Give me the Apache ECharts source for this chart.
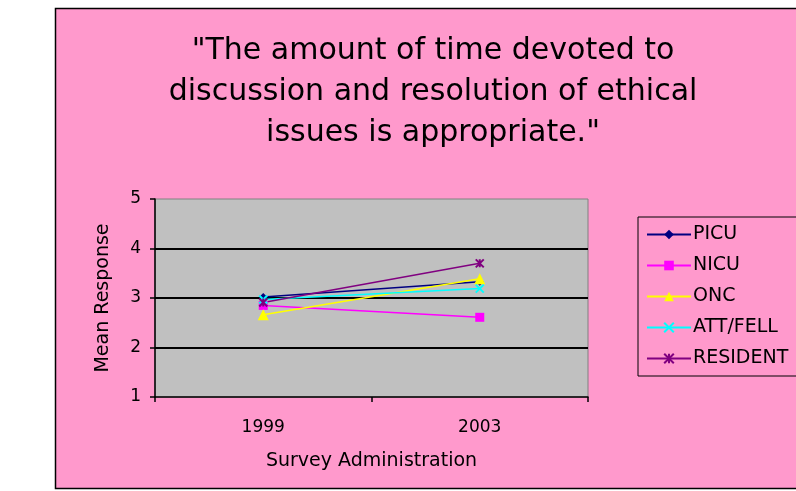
<!DOCTYPE html>
<html>
<head>
<meta charset="utf-8">
<script src="https://cdn.jsdelivr.net/npm/echarts@6/dist/echarts.min.js"></script>
<style>
  html, body { margin: 0; padding: 0; background: #fff; }
  #chart { width: 796px; height: 491px; }
</style>
</head>
<body>
<div id="chart"></div>
<script>
// survey years on the x axis
const years = ["1999", "2003"];
// mean response per unit
const picu = [3.02, 3.33];
const nicu = [2.85, 2.61];
const onc = [2.66, 3.39];
const attFell = [2.97, 3.19];
const resident = [2.91, 3.70];

// wide sans to match the stretched look of the original text
const font = "DejaVu Sans, Liberation Sans, sans-serif";

function mk(name, data, color, symbol, size, stroke) {
  return {
    name: name,
    type: "line",
    data: data,
    symbol: symbol,
    symbolSize: size,
    lineStyle: { color: color, width: 1.5 },
    itemStyle: stroke
      ? { color: color, borderColor: color, borderWidth: 2 }
      : { color: color, borderWidth: 0 },
    emphasis: { disabled: true }
  };
}

const chart = echarts.init(document.getElementById("chart"));
chart.setOption({
  backgroundColor: "#fff",
  animation: false,
  graphic: [
    {
      type: "rect",
      z: -10,
      shape: { x: 55.5, y: 8.5, width: 760, height: 480 },
      style: { fill: "#ff99cc", stroke: "#000", lineWidth: 1.5 }
    }
  ],
  title: {
    text: '"The amount of time devoted to\ndiscussion and resolution of ethical\nissues is appropriate."',
    left: 433,
    top: 31,
    padding: 0,
    textAlign: "center",
    textStyle: { fontFamily: font, fontSize: 30, fontWeight: "normal", lineHeight: 41, color: "#000" }
  },
  legend: {
    orient: "vertical",
    left: 638,
    top: 217,
    width: 170,
    height: 156,
    padding: [8, 60, 8, 8],
    itemGap: 12,
    itemWidth: 44,
    itemHeight: 12,
    borderColor: "#000",
    borderWidth: 1,
    textStyle: { fontFamily: font, fontSize: 19, color: "#000", padding: [0, 0, 0, -3] },
    data: ["PICU", "NICU", "ONC", "ATT/FELL", "RESIDENT"]
  },
  grid: {
    left: 155,
    top: 199,
    right: 208,
    bottom: 94,
    show: true,
    backgroundColor: "#c0c0c0",
    borderColor: "#808080",
    borderWidth: 1
  },
  xAxis: {
    type: "category",
    data: years,
    boundaryGap: true,
    name: "Survey Administration",
    nameLocation: "middle",
    nameGap: 55,
    nameTextStyle: { fontFamily: font, fontSize: 19, color: "#000" },
    axisLine: { lineStyle: { color: "#000", width: 1.5 } },
    axisTick: { show: true, alignWithLabel: false, length: 5, lineStyle: { color: "#000", width: 1.5 } },
    axisLabel: { fontFamily: font, fontSize: 17, color: "#000", margin: 22 },
    splitLine: { show: false }
  },
  yAxis: {
    type: "value",
    min: 1,
    max: 5,
    interval: 1,
    name: "Mean Response",
    nameLocation: "middle",
    nameGap: 42,
    nameRotate: 90,
    nameTextStyle: { fontFamily: font, fontSize: 19, color: "#000" },
    axisLine: { show: true, lineStyle: { color: "#000", width: 1.5 } },
    axisTick: { show: true, length: 5, lineStyle: { color: "#000", width: 1.5 } },
    axisLabel: { fontFamily: font, fontSize: 17, color: "#000", margin: 14 },
    splitLine: { show: true, showMinLine: false, showMaxLine: false, lineStyle: { color: "#000", width: 2 } }
  },
  series: [
    mk("PICU", picu, "#000080", "diamond", 8, false),
    mk("NICU", nicu, "#ff00ff", "rect", 9, false),
    mk("ONC", onc, "#ffff00", "triangle", 11, false),
    mk("ATT/FELL", attFell, "#00ffff", "path://M0,0L10,10M10,0L0,10", 8, true),
    mk("RESIDENT", resident, "#800080", "path://M0,0L10,10M10,0L0,10M5,0L5,10", 8, true)
  ]
});
</script>
</body>
</html>
